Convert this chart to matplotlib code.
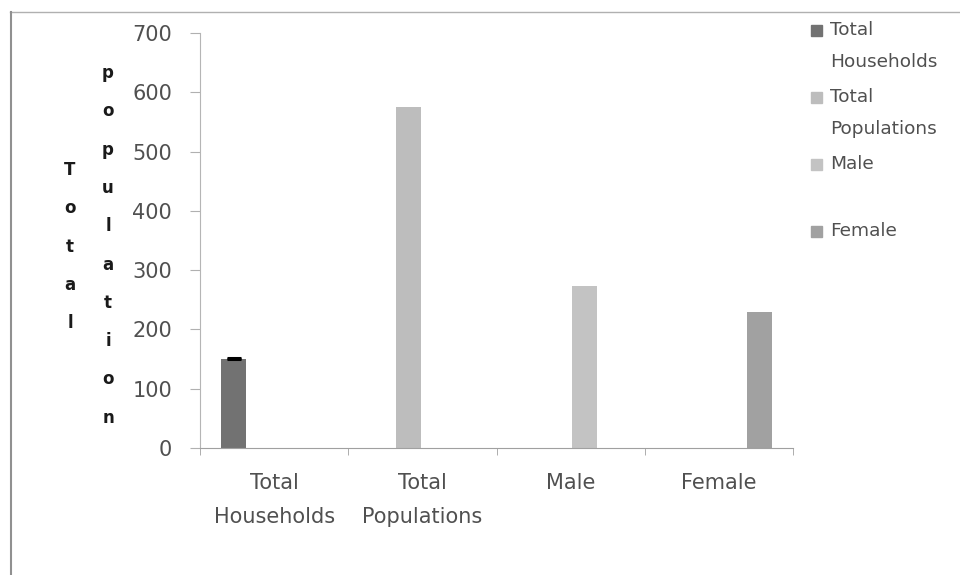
import numpy as np
import matplotlib

matplotlib.use("Agg")
import matplotlib.pyplot as plt  # noqa: E402
from matplotlib.lines import Line2D  # noqa: E402
from matplotlib.patches import Rectangle  # noqa: E402

# data
categories = ["Total Households", "Total Populations", "Male", "Female"]
tick_labels = ["Total\nHouseholds", "Total\nPopulations", "Male", "Female"]
series = ["Total Households", "Total Populations", "Male", "Female"]
values = [150, 575, 273, 230]
th_err = 1
colors = ["#727272", "#bdbdbd", "#c3c3c3", "#a1a1a1"]
yticks = [0, 100, 200, 300, 400, 500, 600, 700]

W, H = 960, 575
TXT = "#505050"


def fx(px):
    return px / W


def fy(py):
    return 1 - py / H


fig = plt.figure(figsize=(W / 100, H / 100), dpi=100)
fig.patch.set_facecolor("white")
ax = fig.add_axes([fx(200), fy(448), fx(793) - fx(200), fy(33) - fy(448)])

x = np.arange(len(categories))
step, width = 0.182, 0.17
for i, (name, v, c) in enumerate(zip(series, values, colors)):
    ax.bar(x[i] + (i - 1.5) * step, v, width=width, color=c, label=name, zorder=2)
ax.errorbar(x[0] - 1.5 * step, values[0], yerr=[[0], [th_err]], fmt="none",
            ecolor="black", elinewidth=1, capsize=5, capthick=2.2, zorder=3)

ax.set_xlim(-0.5, len(categories) - 0.5)
ax.set_ylim(0, 700)
ax.set_yticks(yticks)
ax.set_xticks(x)
ax.set_xticklabels(tick_labels, linespacing=1.85)
ax.set_xticks(np.arange(-0.5, len(categories)), minor=True)
ax.tick_params(axis="x", which="major", length=0, pad=18, labelsize=15, labelcolor=TXT)
ax.tick_params(axis="x", which="minor", length=5, color="#a0a0a0", direction="out")
ax.tick_params(axis="y", length=7, color="#b0b0b0", pad=13, labelsize=15, labelcolor=TXT)
for s in ("top", "right"):
    ax.spines[s].set_visible(False)
ax.spines["left"].set_color("#b5b5b5")
ax.spines["bottom"].set_color("#a0a0a0")

# stacked-letter axis title
for word, px, py0 in [("Total", 70, 170), ("population", 108, 73)]:
    for k, ch in enumerate(word):
        fig.text(fx(px), fy(py0 + 38.3 * k), ch, ha="center", va="center",
                 fontsize=12, fontweight="bold", color="#1a1a1a")

# legend, one entry per series
for i, (name, c) in enumerate(zip(series, colors)):
    top = 30 + 67 * i
    fig.patches.append(Rectangle((fx(811), fy(top + 6)), fx(11), fy(0) - fy(11),
                                 transform=fig.transFigure, color=c))
    for j, line in enumerate(name.split(" ")):
        fig.text(fx(830), fy(top + 32 * j), line, ha="left", va="center",
                 fontsize=13.3, color=TXT)

# chart area frame
fig.lines.append(Line2D([fx(10), 1], [fy(12), fy(12)], transform=fig.transFigure,
                        color="#b0b0b0", lw=1))
fig.lines.append(Line2D([fx(11), fx(11)], [fy(12), 0], transform=fig.transFigure,
                        color="#909090", lw=1.5))

fig.savefig("out.png", dpi=100)
